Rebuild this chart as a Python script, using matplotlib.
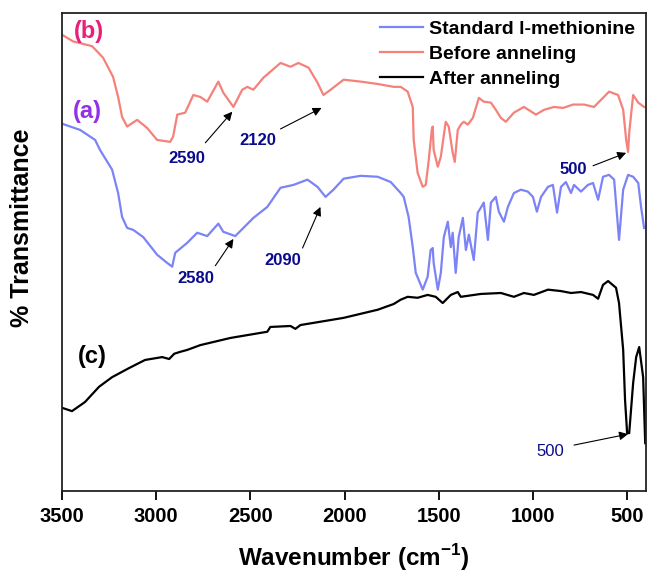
import numpy as np
import matplotlib
matplotlib.use("Agg")
import matplotlib.pyplot as plt

plt.rcParams['font.family'] = ['Liberation Sans', 'DejaVu Sans']
plt.rcParams['font.weight'] = 'bold'
plt.rcParams['mathtext.default'] = 'bf'

# (b) before anneling
wn_b = [3500, 3441, 3340, 3282, 3229, 3202, 3181, 3154, 3101, 3048, 2995, 2926, 2910,
        2888, 2846, 2803, 2766, 2729, 2670, 2644, 2590, 2543, 2516, 2484, 2431, 2340,
        2287, 2245, 2191, 2144, 2112, 2074, 2005, 1915, 1824, 1739, 1702, 1665, 1638,
        1633, 1612, 1585, 1569, 1553, 1537, 1532, 1527, 1505, 1489, 1463, 1447, 1426,
        1415, 1399, 1383, 1367, 1346, 1319, 1287, 1261, 1223, 1197, 1170, 1144, 1101,
        1048, 984, 941, 888, 840, 787, 729, 676, 638, 596, 548, 521, 505, 495, 489,
        468, 441, 410]
tr_b = [95.4, 94.0, 93.0, 90.6, 86.6, 82.4, 78.2, 76.2, 77.6, 75.9, 73.4, 73.0, 74.1,
        78.7, 79.1, 82.8, 82.4, 81.4, 85.6, 83.3, 80.3, 83.9, 84.5, 83.9, 86.4, 89.5,
        88.7, 89.5, 88.5, 85.4, 82.8, 83.9, 86.0, 85.6, 85.1, 84.5, 84.5, 83.5, 80.3,
        73.4, 66.5, 63.6, 64.0, 69.2, 75.5, 76.2, 71.3, 67.8, 69.9, 77.2, 76.2, 70.7,
        68.8, 75.5, 76.6, 77.2, 76.6, 78.0, 82.2, 81.4, 81.2, 79.7, 78.0, 77.2, 79.1,
        80.3, 78.7, 79.7, 80.3, 80.1, 80.8, 80.8, 80.3, 81.8, 83.5, 82.8, 79.7, 73.4,
        70.9, 74.9, 82.8, 81.2, 80.3]

# (a) standard l-methionine
wn_a = [3500, 3404, 3324, 3298, 3234, 3202, 3181, 3154, 3122, 3069, 2995, 2942, 2915,
        2899, 2835, 2782, 2729, 2670, 2644, 2580, 2537, 2484, 2410, 2340, 2271, 2197,
        2144, 2101, 2059, 2005, 1915, 1824, 1755, 1702, 1686, 1660, 1638, 1622, 1606,
        1585, 1559, 1543, 1532, 1527, 1505, 1489, 1473, 1452, 1436, 1426, 1410, 1394,
        1372, 1356, 1340, 1314, 1293, 1277, 1261, 1239, 1223, 1197, 1181, 1154, 1133,
        1101, 1064, 1027, 1000, 979, 957, 920, 894, 872, 851, 825, 798, 782, 745, 708,
        681, 654, 628, 596, 569, 543, 521, 495, 468, 441, 426, 410]
tr_a = [76.8, 75.5, 73.4, 71.3, 67.2, 62.3, 57.3, 55.0, 54.6, 53.1, 49.4, 47.7, 46.9,
        49.8, 51.9, 54.0, 53.3, 55.9, 54.2, 53.3, 55.0, 57.1, 59.4, 63.4, 64.0, 65.1,
        63.6, 61.5, 63.0, 65.3, 65.9, 65.7, 64.6, 62.3, 61.5, 57.3, 51.0, 45.6, 44.1,
        42.1, 44.8, 50.4, 50.8, 47.7, 42.1, 45.6, 53.1, 56.3, 51.0, 54.0, 45.6, 53.1,
        57.1, 50.4, 53.6, 48.3, 58.2, 59.2, 60.3, 52.5, 60.3, 61.5, 58.4, 56.3, 59.4,
        62.3, 63.0, 62.6, 61.5, 58.4, 61.5, 63.6, 64.0, 58.2, 63.6, 64.6, 62.3, 64.0,
        62.6, 64.0, 64.4, 60.9, 65.7, 66.1, 65.1, 52.5, 63.0, 66.1, 65.7, 64.4, 59.4,
        55.0]

# (c) after anneling
wn_c = [3500, 3447, 3378, 3303, 3234, 3144, 3059, 2968, 2931, 2904, 2872, 2835, 2766,
        2606, 2410, 2394, 2287, 2261, 2234, 2005, 1824, 1739, 1702, 1665, 1612, 1559,
        1516, 1479, 1436, 1399, 1383, 1277, 1170, 1101, 1048, 995, 920, 851, 798, 745,
        681, 654, 628, 601, 559, 543, 521, 511, 500, 489, 468, 452, 436, 415, 404]
tr_c = [17.4, 16.7, 18.6, 21.8, 23.8, 25.7, 27.4, 28.0, 27.6, 28.7, 29.1, 29.5, 30.5,
        32.0, 33.3, 34.3, 34.5, 33.9, 34.7, 36.2, 37.9, 39.1, 40.0, 40.6, 40.4, 41.0,
        40.6, 39.3, 41.0, 41.6, 40.6, 41.2, 41.4, 40.6, 41.4, 41.0, 42.1, 41.8, 41.4,
        41.6, 41.0, 40.2, 43.1, 43.9, 42.5, 39.3, 29.5, 19.0, 12.1, 12.1, 22.6, 28.0,
        30.1, 23.8, 10.0]

x_ticks = [3500, 3000, 2500, 2000, 1500, 1000, 500]

fig = plt.figure(figsize=(6.47, 5.73), dpi=100)
ax = fig.add_axes([0.0958, 0.1431, 0.9026, 0.8347])

ax.plot(wn_a, tr_a, color='#7b83f6', lw=1.6, label='Standard l-methionine')
ax.plot(wn_b, tr_b, color='#f4827b', lw=1.6, label='Before anneling')
ax.plot(wn_c, tr_c, color='black', lw=1.6, label='After anneling')

ax.set_xlim(3500, 400)
ax.set_ylim(0, 100)
ax.set_xticks(x_ticks)
ax.set_yticks([])
ax.tick_params(axis='x', direction='out', length=6.5, width=1.3, labelsize=14.5, pad=5)
for lab in ax.get_xticklabels():
    lab.set_fontweight('bold')
for sp in ax.spines.values():
    sp.set_linewidth(1.3)
    sp.set_color('#222222')

fig.text(22 / 647, 1 - 228 / 573, '% Transmittance', rotation=90, ha='center',
         va='center', fontsize=18, fontweight='bold')
fig.text(354 / 647, 1 - 566 / 573, 'Wavenumber (cm$^{\\mathregular{-1}}$)', ha='center',
         va='baseline', fontsize=17.5, fontweight='bold')

leg = ax.legend(loc='upper left', bbox_to_anchor=(0.5445, 0.985), frameon=False,
                fontsize=14, handlelength=2.2, handletextpad=0.3, labelspacing=0.38,
                borderpad=0, borderaxespad=0)
for t in leg.get_texts():
    t.set_fontweight('bold')

ax.text(3356, 96.0, '(b)', color='#e8207a', fontsize=17, fontweight='bold',
        ha='center', va='center')
ax.text(3367, 79.3, '(a)', color='#9431e8', fontsize=17, fontweight='bold',
        ha='center', va='center')
ax.text(3340, 28.2, '(c)', color='black', fontsize=17, fontweight='bold',
        ha='center', va='center')

arrow = dict(arrowstyle='-|>', lw=0.8, color='black', mutation_scale=13,
             shrinkA=0, shrinkB=0)
navy = '#0a0a8c'


def mark(label, text_xy, tail, head, weight='bold'):
    ax.annotate('', xy=head, xytext=tail, arrowprops=arrow)
    ax.text(text_xy[0], text_xy[1], label, color=navy, fontsize=12,
            fontweight=weight, ha='center', va='center')


mark('2590', (2840, 69.5), (2739, 72.8), (2596, 79.3))
mark('2120', (2463, 73.2), (2340, 75.7), (2122, 80.1))
mark('2580', (2787, 44.4), (2686, 47.1), (2590, 52.7))
mark('2090', (2330, 48.1), (2223, 50.8), (2128, 59.4))
mark('500', (787, 67.2), (681, 68.0), (505, 70.7))
mark('500', (910, 8.2), (782, 9.6), (495, 11.9), weight='normal')

fig.savefig('out.png', dpi=100)
